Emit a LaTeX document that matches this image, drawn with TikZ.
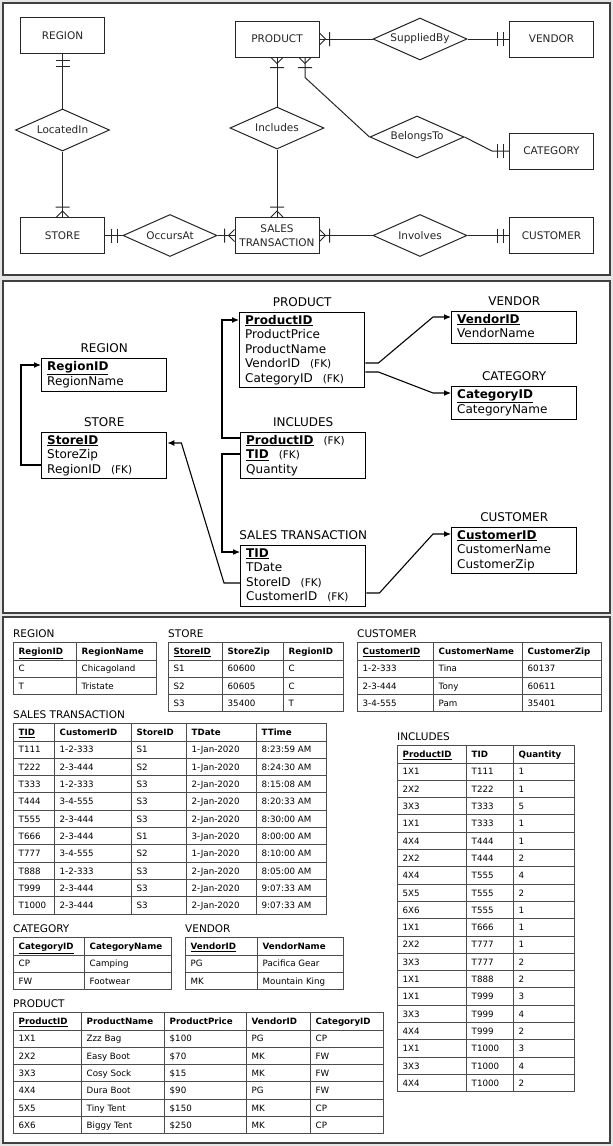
\documentclass[tikz,border=0pt]{standalone}
\usepackage{fontspec}
\setmainfont{DejaVu Sans}
\usepackage{array,colortbl}
\usetikzlibrary{shapes.geometric,positioning,calc,arrows.meta}

\newcommand\key[1]{\underline{\textbf{#1}}}
\newcommand\fk{\hspace{10pt}{\fontsize{10.5}{14.5}\selectfont(FK)}}
\newcolumntype{W}[1]{>{\raggedright\arraybackslash}p{\dimexpr#1pt-2\tabcolsep-\arrayrulewidth\relax}}
\setlength\tabcolsep{4.5pt}
\setlength\arrayrulewidth{1pt}

\tikzset{
  erline/.style={line width=1pt, black!85},
  entity/.style={draw, erline, minimum width=84pt, minimum height=36pt, inner sep=0pt, align=center, font=\fontsize{10.5}{14}\selectfont},
  relship/.style={diamond, aspect=2.24, draw, erline, minimum width=94pt, minimum height=42pt, inner sep=0pt, font=\fontsize{10.5}{14}\selectfont},
  oneone/.pic={\draw[erline] (6,-7) -- (6,7) (12,-7) -- (12,7);},
  onemany/.pic={\draw[erline] (0,-6) -- (6,0) -- (0,6) (10,-7) -- (10,7);},
  relbox/.style={draw, line width=1.4pt, anchor=north west, align=left, text width=114pt, inner xsep=5.5pt, inner ysep=1.25pt, font=\fontsize{12}{14.5}\selectfont, execute at begin node=\strut, execute at end node=\strut},
  reltitle/.style={inner sep=0pt, font=\fontsize{12}{14.5}\selectfont},
  fk/.style={-{Latex[length=7pt,width=6pt]}, line width=1.1pt},
  tbl/.style={anchor=north west, inner sep=0pt, font=\fontsize{8.7}{16.3}\selectfont\arrayrulecolor{black!70}},
  tbltitle/.style={inner sep=0pt, font=\fontsize{10.5}{12}\selectfont},
  panel/.style={fill=white, draw=black!75, line width=1.5pt}
}

\begin{document}
\begin{tikzpicture}[x=1pt, y=-1pt]
  \useasboundingbox (0,0) rectangle (613,1146);
  \fill[gray!20] (0,0) rectangle (613,1146);
  \draw[panel] (3,3) rectangle (610,275);
  \draw[panel] (3,281) rectangle (610,613);
  \draw[panel] (3,617) rectangle (610,1143);
  %
  % ER diagram at top
  \node[entity] (region) at (62.5,35.5) {REGION};
  \node[entity] (product) at (277,39) {PRODUCT};
  \node[entity] (vendor) at (551.5,39) {VENDOR};
  \node[entity] (category) at (551.5,151) {CATEGORY};
  \node[entity] (store) at (62.5,235.5) {STORE};
  \node[entity] (sales) at (277,235.5) {SALES\\TRANSACTION};
  \node[entity] (customer) at (551.5,235.5) {CUSTOMER};
  \node[relship] (locatedin) at (62.5,130) {LocatedIn};
  \node[relship] (suppliedby) at (420,39) {SuppliedBy};
  \node[relship] (includes) at (277,128) {Includes};
  \node[relship] (belongsto) at (417,137) {BelongsTo};
  \node[relship] (occursat) at (170,235.5) {OccursAt};
  \node[relship] (involves) at (420,235.5) {Involves};
  %
  \draw[erline] (region) -- (locatedin);
  \draw[erline] (locatedin) -- (store);
  \draw[erline] (product) -- (includes);
  \draw[erline] (includes) -- (sales);
  \draw[erline] (product) -- (suppliedby);
  \draw[erline] (suppliedby) -- (vendor);
  \draw[erline] ($(product.south)+(28,0)$) -- ++(0,20) -- (belongsto.west);
  \draw[erline] (belongsto.east) -- ($(category.west)+(-17,0)$) -- (category.west);
  \draw[erline] (store) -- (occursat);
  \draw[erline] (occursat) -- (sales);
  \draw[erline] (sales) -- (involves);
  \draw[erline] (involves) -- (customer);
  % cardinalities
  \pic[rotate=-90] at (region.south) {oneone};
  \pic[rotate=90] at (store.north) {onemany};
  \pic[rotate=-90] at (product.south) {onemany};
  \pic[rotate=-90] at ($(product.south)+(28,0)$) {onemany};
  \pic[rotate=90] at (sales.north) {onemany};
  \pic at (product.east) {onemany};
  \pic[rotate=180] at (vendor.west) {oneone};
  \pic[rotate=180] at (category.west) {oneone};
  \pic at (store.east) {oneone};
  \pic[rotate=180] at (sales.west) {onemany};
  \pic at (sales.east) {onemany};
  \pic[rotate=180] at (customer.west) {oneone};
  %
  % relational schema in the middle
  \node[relbox] (s-region) at (41,358) {\key{RegionID}\\RegionName};
  \node[relbox] (s-store) at (41,432) {\key{StoreID}\\StoreZip\\RegionID\fk};
  \node[relbox] (s-product) at (239,312) {\key{ProductID}\\ProductPrice\\ProductName\\VendorID\fk\\CategoryID\fk};
  \node[relbox] (s-includes) at (240,432) {\key{ProductID}\fk\\\key{TID}\fk\\Quantity};
  \node[relbox] (s-sales) at (240,545) {\key{TID}\\TDate\\StoreID\fk\\CustomerID\fk};
  \node[relbox] (s-vendor) at (451,311) {\key{VendorID}\\VendorName};
  \node[relbox] (s-category) at (451,386) {\key{CategoryID}\\CategoryName};
  \node[relbox] (s-customer) at (451,527) {\key{CustomerID}\\CustomerName\\CustomerZip};
  \node[reltitle, above=5pt of s-region] {REGION};
  \node[reltitle, above=5pt of s-store] {STORE};
  \node[reltitle, above=5pt of s-product] {PRODUCT};
  \node[reltitle, above=5pt of s-includes] {INCLUDES};
  \node[reltitle, above=5pt of s-sales] {SALES TRANSACTION};
  \node[reltitle, above=5pt of s-vendor] {VENDOR};
  \node[reltitle, above=5pt of s-category] {CATEGORY};
  \node[reltitle, above=5pt of s-customer] {CUSTOMER};
  %
  \draw[fk] ($(s-store.north west)+(0,33)$) -- ++(-20,0) |- ($(s-region.north west)+(0,7)$);
  \draw[fk] ($(s-includes.north west)+(0,6)$) -- ++(-18,0) |- ($(s-product.north west)+(0,8)$);
  \draw[fk] ($(s-includes.north west)+(0,22)$) -- ++(-18,0) |- ($(s-sales.north west)+(0,7)$);
  \draw[fk] ($(s-sales.north west)+(0,38)$) -- ++(-16,0) -- ($(s-store.north east)+(14,11)$) -- ($(s-store.north east)+(0,11)$);
  \draw[fk] ($(s-product.north east)+(0,51)$) -- ++(13,0) -- ($(s-vendor.north west)+(-18,6)$) -- ($(s-vendor.north west)+(0,6)$);
  \draw[fk] ($(s-product.north east)+(0,60)$) -- ++(13,0) -- ($(s-category.north west)+(-18,7)$) -- ($(s-category.north west)+(0,7)$);
  \draw[fk] ($(s-sales.north east)+(0,48)$) -- ++(13,0) -- ($(s-customer.north west)+(-18,7)$) -- ($(s-customer.north west)+(0,7)$);
  %
  % sample tables at bottom
  \node[tbl] (t-region) at (13,642) {\begin{tabular}{|W{63}|W{80}|}\hline
    \key{RegionID} & \textbf{RegionName}\\\hline
    C & Chicagoland\\\hline
    T & Tristate\\\hline
  \end{tabular}};
  \node[tbl] (t-store) at (168,642) {\begin{tabular}{|W{54}|W{61}|W{60}|}\hline
    \key{StoreID} & \textbf{StoreZip} & \textbf{RegionID}\\\hline
    S1 & 60600 & C\\\hline
    S2 & 60605 & C\\\hline
    S3 & 35400 & T\\\hline
  \end{tabular}};
  \node[tbl] (t-customer) at (357,642) {\begin{tabular}{|W{76}|W{89}|W{79}|}\hline
    \key{CustomerID} & \textbf{CustomerName} & \textbf{CustomerZip}\\\hline
    1-2-333 & Tina & 60137\\\hline
    2-3-444 & Tony & 60611\\\hline
    3-4-555 & Pam & 35401\\\hline
  \end{tabular}};
  \node[tbl] (t-sales) at (13,723) {\begin{tabular}{|W{41}|W{77}|W{55}|W{70}|W{70}|}\hline
    \key{TID} & \textbf{CustomerID} & \textbf{StoreID} & \textbf{TDate} & \textbf{TTime}\\\hline
    T111 & 1-2-333 & S1 & 1-Jan-2020 & 8:23:59 AM\\\hline
    T222 & 2-3-444 & S2 & 1-Jan-2020 & 8:24:30 AM\\\hline
    T333 & 1-2-333 & S3 & 2-Jan-2020 & 8:15:08 AM\\\hline
    T444 & 3-4-555 & S3 & 2-Jan-2020 & 8:20:33 AM\\\hline
    T555 & 2-3-444 & S3 & 2-Jan-2020 & 8:30:00 AM\\\hline
    T666 & 2-3-444 & S1 & 3-Jan-2020 & 8:00:00 AM\\\hline
    T777 & 3-4-555 & S2 & 1-Jan-2020 & 8:10:00 AM\\\hline
    T888 & 1-2-333 & S3 & 2-Jan-2020 & 8:05:00 AM\\\hline
    T999 & 2-3-444 & S3 & 2-Jan-2020 & 9:07:33 AM\\\hline
    T1000 & 2-3-444 & S3 & 2-Jan-2020 & 9:07:33 AM\\\hline
  \end{tabular}};
  \node[tbl] (t-includes) at (397,745) {\begin{tabular}{|W{69}|W{47}|W{61}|}\hline
    \key{ProductID} & \textbf{TID} & \textbf{Quantity}\\\hline
    1X1 & T111 & 1\\\hline
    2X2 & T222 & 1\\\hline
    3X3 & T333 & 5\\\hline
    1X1 & T333 & 1\\\hline
    4X4 & T444 & 1\\\hline
    2X2 & T444 & 2\\\hline
    4X4 & T555 & 4\\\hline
    5X5 & T555 & 2\\\hline
    6X6 & T555 & 1\\\hline
    1X1 & T666 & 1\\\hline
    2X2 & T777 & 1\\\hline
    3X3 & T777 & 2\\\hline
    1X1 & T888 & 2\\\hline
    1X1 & T999 & 3\\\hline
    3X3 & T999 & 4\\\hline
    4X4 & T999 & 2\\\hline
    1X1 & T1000 & 3\\\hline
    3X3 & T1000 & 4\\\hline
    4X4 & T1000 & 2\\\hline
  \end{tabular}};
  \node[tbl] (t-category) at (13,937) {\begin{tabular}{|W{71}|W{87}|}\hline
    \key{CategoryID} & \textbf{CategoryName}\\\hline
    CP & Camping\\\hline
    FW & Footwear\\\hline
  \end{tabular}};
  \node[tbl] (t-vendor) at (185,937) {\begin{tabular}{|W{72}|W{86}|}\hline
    \key{VendorID} & \textbf{VendorName}\\\hline
    PG & Pacifica Gear\\\hline
    MK & Mountain King\\\hline
  \end{tabular}};
  \node[tbl] (t-product) at (13,1012) {\begin{tabular}{|W{68}|W{83}|W{82}|W{64}|W{73}|}\hline
    \key{ProductID} & \textbf{ProductName} & \textbf{ProductPrice} & \textbf{VendorID} & \textbf{CategoryID}\\\hline
    1X1 & Zzz Bag & \$100 & PG & CP\\\hline
    2X2 & Easy Boot & \$70 & MK & FW\\\hline
    3X3 & Cosy Sock & \$15 & MK & FW\\\hline
    4X4 & Dura Boot & \$90 & PG & FW\\\hline
    5X5 & Tiny Tent & \$150 & MK & CP\\\hline
    6X6 & Biggy Tent & \$250 & MK & CP\\\hline
  \end{tabular}};
  \node[tbltitle, above right=4.5pt and 0pt of t-region.north west] {REGION};
  \node[tbltitle, above right=4.5pt and 0pt of t-store.north west] {STORE};
  \node[tbltitle, above right=4.5pt and 0pt of t-customer.north west] {CUSTOMER};
  \node[tbltitle, above right=4.5pt and 0pt of t-sales.north west] {SALES TRANSACTION};
  \node[tbltitle, above right=4.5pt and 0pt of t-includes.north west] {INCLUDES};
  \node[tbltitle, above right=4.5pt and 0pt of t-category.north west] {CATEGORY};
  \node[tbltitle, above right=4.5pt and 0pt of t-vendor.north west] {VENDOR};
  \node[tbltitle, above right=4.5pt and 0pt of t-product.north west] {PRODUCT};
\end{tikzpicture}
\end{document}
